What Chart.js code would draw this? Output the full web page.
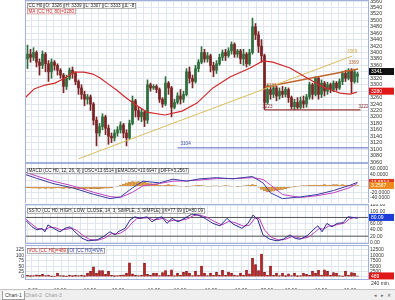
<!DOCTYPE html>
<html><head><meta charset="utf-8">
<script src="https://cdn.jsdelivr.net/npm/chart.js@4"></script>
<style>
html,body{margin:0;padding:0;background:#fff;width:395px;height:300px;overflow:hidden;font-family:"Liberation Sans",Arial,sans-serif}
canvas{position:absolute;left:0}
#tabs{position:absolute;left:0;top:289px;width:395px;height:11px;background:#efefef;border-top:1px solid #c4c4c4}
.tab{position:absolute;top:1px;height:8px;font-size:5px;line-height:8px;padding:0 2px;color:#9a9a9a}
.tab.sel{background:#fff;color:#333;border:1px solid #a0a0a0;border-top:none}
#nav{position:absolute;right:3px;top:1px;font-size:5px;line-height:8px;color:#666;letter-spacing:1px}
</style></head><body>
<canvas id="cMain" width="395" height="164" style="top:0;width:395px;height:164px"></canvas>
<canvas id="cMacd" width="395" height="40" style="top:163px;width:395px;height:40px"></canvas>
<canvas id="cSto" width="395" height="40" style="top:204px;width:395px;height:40px"></canvas>
<canvas id="cVol" width="395" height="44" style="top:245px;width:395px;height:44px"></canvas>
<div id="tabs">
  <div class="tab sel" style="left:2px">Chart-1</div>
  <div class="tab" style="left:23px">Chart-2</div>
  <div class="tab" style="left:43px">Chart-3</div>
  <div id="nav">◂ ▸ ✕</div>
</div>
<script>
// ================= DATA =================
const openP  = [3380,3395,3385,3400,3370,3360,3395,3365,3340,3370,3360,3345,3330,3295,3320,3345,3335,3310,3290,3270,3255,3262,3240,3190,3150,3170,3200,3165,3140,3135,3150,3160,3175,3150,3135,3180,3250,3220,3200,3215,3190,3300,3290,3295,3285,3255,3240,3305,3290,3230,3245,3265,3255,3270,3340,3320,3310,3350,3370,3400,3380,3390,3360,3345,3365,3385,3400,3390,3405,3425,3395,3405,3380,3395,3365,3400,3480,3455,3420,3390,3245,3285,3270,3290,3265,3280,3270,3285,3260,3232,3245,3230,3250,3240,3262,3300,3270,3320,3270,3305,3280,3300,3285,3305,3290,3310,3335,3320,3345,3310,3326];
const highP  = [3423,3410,3415,3405,3380,3405,3400,3375,3380,3375,3365,3350,3335,3330,3352,3355,3340,3315,3300,3280,3270,3268,3245,3200,3180,3210,3205,3175,3150,3160,3170,3185,3180,3160,3190,3265,3255,3230,3225,3220,3315,3305,3300,3300,3290,3260,3325,3310,3295,3255,3275,3285,3280,3350,3355,3330,3360,3378,3418,3410,3400,3395,3370,3375,3395,3408,3410,3415,3433,3430,3410,3410,3410,3400,3410,3507,3490,3465,3440,3395,3300,3295,3300,3295,3290,3295,3292,3290,3265,3255,3260,3262,3265,3270,3308,3305,3325,3325,3315,3310,3308,3305,3312,3310,3318,3342,3345,3350,3350,3348,3339];
const lowP   = [3350,3370,3375,3355,3330,3350,3340,3310,3320,3345,3330,3320,3275,3285,3315,3320,3300,3270,3255,3235,3240,3220,3175,3110,3140,3160,3145,3115,3120,3125,3140,3150,3135,3110,3130,3175,3200,3190,3185,3170,3180,3280,3285,3275,3245,3230,3235,3270,3200,3225,3240,3240,3245,3265,3305,3290,3305,3340,3365,3370,3370,3340,3325,3335,3360,3375,3375,3385,3395,3385,3385,3365,3360,3355,3360,3395,3440,3400,3370,3223,3240,3255,3260,3250,3255,3260,3262,3245,3225,3222,3224,3226,3228,3230,3255,3255,3265,3255,3260,3265,3270,3275,3278,3282,3285,3300,3310,3315,3275,3305,3307];
const closeP = [3395,3385,3400,3370,3360,3395,3365,3340,3370,3360,3345,3330,3295,3320,3345,3335,3310,3290,3270,3255,3262,3240,3190,3150,3170,3200,3165,3140,3135,3150,3160,3175,3150,3135,3180,3250,3220,3200,3215,3190,3300,3290,3295,3285,3255,3240,3305,3290,3230,3245,3265,3255,3270,3340,3320,3310,3350,3370,3400,3380,3390,3360,3345,3365,3385,3400,3390,3405,3425,3395,3405,3380,3395,3365,3400,3480,3455,3420,3390,3245,3285,3270,3290,3265,3280,3270,3285,3260,3232,3245,3230,3250,3240,3262,3300,3270,3320,3270,3305,3280,3300,3285,3305,3290,3310,3335,3320,3345,3310,3340,3333];

const maIdx = [-0.5,2.2,5.8,9.2,12.5,15.5,18.8,21.8,24.2,26.5,29.8,32.5,35.2,39.8,45.8,51.5,56.5,61.8,67.5,74.2,78.5,81.8,87.5,93.2,98.5,104.2,107.5,109.8];
const maVal = [3262,3287,3299,3305,3321,3339,3339,3333,3321,3305,3283,3262,3243,3215,3206,3218,3243,3290,3324,3352,3374,3370,3352,3321,3293,3274,3271,3277];

const yellowIdx = [17, 108.2];   const yellowVal = [3070, 3389];
const orangeIdx = [79.2, 110.2]; const orangeVal = [3293, 3349];
const supportIdx = [79, 111];    const supportVal = [3222, 3222];
const blueIdx = [50, 113.5];     const blueVal = [3104, 3104];

const volume = [900,600,700,1000,800,1200,700,900,500,400,1800,700,600,500,900,600,800,700,900,600,1800,2600,4700,1800,3000,3000,1200,2600,800,600,700,900,1000,1800,6600,1500,800,700,900,6300,1200,800,1800,1800,700,2100,3000,900,3300,700,1800,900,2200,2600,1800,700,2600,900,5000,1800,700,1800,800,2200,900,3100,800,2300,1800,900,700,1800,900,3100,1500,8600,5800,3000,10600,2200,900,5000,800,1800,700,1800,600,1500,700,1800,600,700,1800,1200,800,2600,1800,3100,900,3300,2600,900,2100,1800,700,500,2600,900,2100,1800,489];

const macdIdx    = [-0.5,3,8.5,15,22,27.5,31,35,38.5,44,48.5,53,57.5,63,68.5,75,78.5,81,85,91,96.5,102,107.5,110];
const macdLine   = [40,28,10,-5,-27,-42,-36,-5,18,12,25,18,26,30,26,34,12,-22,-42,-36,-28,-14,4,14];
const macdSignal = [48,36,18,2,-20,-35,-38,-20,2,10,18,19,22,27,27,30,24,5,-28,-38,-32,-22,-4,11];
const macdHist = [-4,-5,-6,-6,-7,-6,-7,-6,-7,-6,-5,-6,-7,-6,-7,-6,-7,-8,-7,-8,-7,-8,-9,-8,-8,-7,-6,-6,-4,-2,1,4,8,12,15,17,16,17,15,14,12,10,9,7,5,3,4,6,5,3,2,1,0,-1,1,2,3,4,3,2,1,1,2,2,1,2,3,2,1,0,-1,1,2,3,5,6,4,-3,-10,-15,-18,-17,-16,-14,-12,-10,-8,-5,-3,-1,1,2,3,3,4,5,5,4,5,6,5,5,6,6,5,6,5,4,4,3,3,3];

const stoKIdx = [-0.5,1.5,3.2,4.8,5.8,6.8,8.5,10.8,12.5,14.2,15.8,18.2,20.2,23.2,25.2,27.5,29.2,30.2,32.5,34.2,35.8,37.5,39.8,41.5,43.2,44.8,46.5,48.2,50.2,53.2,54.8,56.8,59.2,61.8,64.2,66.5,68.5,71.5,73.5,75.2,76.8,78.5,80.8,83.2,85.2,87.5,89.2,90.8,93.2,95.2,96.8,98.2,99.8,101.5,103.2,105.2,106.8,108.5,110];
const stoK    = [70,50,40,45,34,56,46,34,45,50,34,13,5,8,18,34,24,34,45,72,82,77,82,66,77,82,61,77,66,82,91,88,77,61,53,77,59,45,61,88,72,24,10,5,10,24,13,10,21,40,53,34,61,50,61,63,82,80,77.09];
const stoDIdx = [-0.5,1.5,3.2,4.8,6,7.2,9,11.2,13,14.8,16.5,18.8,20.8,23.5,25.8,28,29.8,31,33,34.8,36.5,38,40.2,42,43.8,45.3,47,48.8,50.8,53.5,55.3,57.3,59.7,62.3,64.8,67,69,72,74,75.8,77.3,79,81.3,83.7,85.7,88,89.7,91.3,93.7,95.7,97.3,98.7,100.3,102,103.7,105.7,107.3,109,110];
const stoD    = [74,58,45,42,40,48,48,40,42,46,38,20,9,7,14,28,27,30,42,62,77,78,79,72,74,78,68,71,70,76,86,88,81,67,56,67,64,52,55,78,76,40,16,8,9,18,17,12,17,32,45,42,52,54,58,62,75,80,80.09];
const stoLevels = [80, 20];

const mainTicks = [3060,3080,3100,3120,3140,3160,3180,3200,3220,3240,3260,3280,3300,3320,3340,3360,3380,3400,3420,3440,3460,3480,3500,3520,3540,3560];
const macdTicks = [-40,-20,0,20,40,60];
const stoTicks  = [0,20,40,60,80,100,120];
const volTicks  = [0,2500,5000,7500,10000,12500];

const timeTickIdx = [1.8,10.8,20.8,30.2,42.2,50.8,61.2,71.2,79.8,87.8,97.8,107.5];
const timeTickLabels = ['9:00','10:00','16:00','10:00','16:00','10:00','16:00','10:00','22:00','10:00','16:00','16:00'];

// ================= HELPERS =================
const FONT = '"Liberation Sans", Arial, sans-serif';
const GRID = '#e0e6f0';
const pts = (xs, ys) => xs.map((x, j) => ({x, y: ys[j]}));
const idx = openP.map((_, i) => i);
const upC = '#2f6e3c', dnC = '#7a2424';
const candleColors = closeP.map((c, i) => c >= openP[i] ? upC : dnC);

function xGrid() {
  return { type:'linear', min:-0.5, max:113.5, offset:false,
    grid:{color:GRID, drawTicks:false, lineWidth:1}, border:{display:false},
    ticks:{display:false, stepSize:2.5, includeBounds:false},
    afterFit(s){ s.height = 0; s.paddingLeft = 0; s.paddingRight = 0; } };
}
function yAxis(pos, min, max, list, fmt, size, width) {
  return { type:'linear', position:pos, min, max,
    grid:{color: pos === 'right' ? GRID : 'transparent', drawTicks:false}, border:{display:false},
    afterBuildTicks(s){ s.ticks = list.map(v => ({value:v})); },
    ticks:{autoSkip:false, padding:2, color:'#333', font:{family:FONT, size}, callback: fmt},
    afterFit(s){ s.width = width; s.paddingTop = 0; s.paddingBottom = 0; } };
}

const overlay = {
  id: 'overlay',
  afterDraw(chart, args, o) {
    const ctx = chart.ctx, a = chart.chartArea, xs = chart.scales.x;
    ctx.save();
    ctx.strokeStyle = '#a2b1dc'; ctx.lineWidth = 1;
    ctx.strokeRect(Math.round(a.left) - 0.5, Math.round(a.top) - 0.5,
      Math.round(a.right - a.left) + 1, Math.round(a.bottom - a.top) + 1);
    ctx.save();
    ctx.beginPath(); ctx.rect(a.left, a.top, a.right - a.left, a.bottom - a.top); ctx.clip();
    ctx.font = '4.6px ' + FONT; ctx.textBaseline = 'middle'; ctx.textAlign = 'left';
    (o.notes || []).forEach(n => {
      ctx.fillStyle = n.color;
      ctx.fillText(n.text, xs.getPixelForValue(n.i), chart.scales.y.getPixelForValue(n.v));
    });
    ctx.restore();
    let y0 = a.top + (o.legendTop || 2);
    ctx.font = '4.6px ' + FONT; ctx.textBaseline = 'middle'; ctx.textAlign = 'left';
    (o.legend || []).forEach(row => {
      let x = a.left + 1;
      row.forEach(it => {
        const w = Math.ceil(ctx.measureText(it.t).width + 3);
        ctx.fillStyle = '#fff'; ctx.fillRect(x, y0, w, 5.5);
        ctx.strokeStyle = it.b || '#6a6a6a'; ctx.lineWidth = 0.6;
        ctx.strokeRect(x + 0.3, y0 + 0.3, w - 0.6, 4.9);
        ctx.fillStyle = it.c || '#222';
        ctx.fillText(it.t, x + 1.5, y0 + 2.9);
        x += w;
      });
      y0 += 5.7;
    });
    ctx.font = '5px ' + FONT;
    (o.boxes || []).forEach(b => {
      const y = chart.scales[b.axis || 'y'].getPixelForValue(b.v);
      ctx.fillStyle = b.bg; ctx.fillRect(a.right + 1, y - 3.5, 25, 7);
      ctx.fillStyle = b.fg || '#fff'; ctx.fillText(b.t, a.right + 3, y + 0.3);
    });
    (o.texts || []).forEach(t => {
      ctx.fillStyle = '#333'; ctx.fillText(t.t, a.right + 3, a.bottom + t.dy);
    });
    ctx.restore();
  }
};

const base = (pad, extra) => Object.assign({
  responsive:false, animation:false, events:[], devicePixelRatio:1,
  layout:{padding:pad},
}, extra);

// ================= MAIN PRICE CHART =================
new Chart(document.getElementById('cMain'), {
  type:'bar',
  data:{ datasets:[
    {type:'line', data:pts(maIdx, maVal), borderColor:'#d02a2a', borderWidth:1.2, pointRadius:0, order:0},
    {type:'line', data:pts(yellowIdx, yellowVal), borderColor:'#dcbc5c', borderWidth:1, pointRadius:0, order:0},
    {type:'line', data:pts(orangeIdx, orangeVal), borderColor:'#c0642a', borderWidth:1.4, pointRadius:0, order:0},
    {type:'line', data:pts(supportIdx, supportVal), borderColor:'#9a3a3a', borderWidth:1.3, pointRadius:0, order:0},
    {type:'line', data:pts(blueIdx, blueVal), borderColor:'#5a66c4', borderWidth:1, pointRadius:0, order:0},
    {data: idx.map(i => ({x:i, y:[openP[i], closeP[i]]})), backgroundColor:candleColors, barThickness:2, grouped:false, order:1},
    {data: idx.map(i => ({x:i, y:[lowP[i], highP[i]]})), backgroundColor:candleColors, barThickness:1, grouped:false, order:2}
  ]},
  options: base({left:26, top:1, bottom:2, right:0}, {
    scales:{ x:xGrid(), y:yAxis('right', 3060, 3560, mainTicks, v => v, 5.5, 27) },
    plugins:{ legend:{display:false}, tooltip:{enabled:false},
      overlay:{
        legendTop:2,
        legend:[
          [{t:'CC H0'},{t:'O: 3326'},{t:'H: 3339'},{t:'L: 3307'},{t:'C: 3333'},{t:'Δ: -8'}],
          [{t:'MA (CC H0, 80)=3280', c:'#c83030', b:'#c87070'}]
        ],
        notes:[
          {i:51, v:3116, text:'3104', color:'#3a4aa8'},
          {i:106.5, v:3403, text:'3389', color:'#c9a84a'},
          {i:107, v:3367, text:'3369', color:'#b8602a'},
          {i:79.6, v:3297, text:'3323', color:'#b8602a'},
          {i:78.3, v:3232, text:'3223', color:'#8a3030'},
          {i:110.3, v:3232, text:'3222', color:'#8a3030'}
        ],
        boxes:[ {v:3341, t:'3341', bg:'#111'}, {v:3280, t:'3280', bg:'#e01818'} ]
      } }
  }),
  plugins:[overlay]
});

// ================= MACD =================
new Chart(document.getElementById('cMacd'), {
  type:'bar',
  data:{ datasets:[
    {type:'line', data:pts(macdIdx, macdLine), borderColor:'#3c3ca0', borderWidth:1, pointRadius:0, order:0},
    {type:'line', data:pts(macdIdx, macdSignal), borderColor:'#c040c0', borderWidth:1, pointRadius:0, order:0},
    {data: idx.map(i => ({x:i, y:macdHist[i]})), backgroundColor:'#f0a038', borderColor:'#a86010', borderWidth:0.5, barThickness:2, grouped:false, order:1}
  ]},
  options: base({left:26, top:1, bottom:0, right:0}, {
    scales:{ x:xGrid(), y:yAxis('right', -57, 77, macdTicks, v => (v === 0 || v === 20) ? '' : v.toFixed(4), 5, 27) },
    plugins:{ legend:{display:false}, tooltip:{enabled:false},
      overlay:{ legendTop:4,
        legend:[[{t:'MACD (CC H0, 12, 26, 9)'},{t:'OSC=13.6514'},{t:'EMAOSC=10.6947'},{t:'DIFF=3.2567'}]],
        boxes:[ {v:13.6514, t:'13.6514', bg:'#e23a1e'}, {v:3.2567, t:'3.2567', bg:'#f08a1c'} ] } }
  }),
  plugins:[overlay]
});

// ================= STOCHASTIC =================
new Chart(document.getElementById('cSto'), {
  type:'line',
  data:{ datasets:[
    {data:pts(stoKIdx, stoK), borderColor:'#2c2c8c', borderWidth:1, pointRadius:0},
    {data:pts(stoDIdx, stoD), borderColor:'#b83cb8', borderWidth:1, pointRadius:0},
    {data:pts([-0.5, 113.5], [stoLevels[0], stoLevels[0]]), borderColor:'#555', borderWidth:1, pointRadius:0},
    {data:pts([-0.5, 113.5], [stoLevels[1], stoLevels[1]]), borderColor:'#555', borderWidth:1, pointRadius:0}
  ]},
  options: base({left:26, top:1, bottom:1, right:0}, {
    scales:{ x:xGrid(), y:yAxis('right', -2, 120, stoTicks, v => v === 80 ? '' : v.toFixed(2), 5, 27) },
    plugins:{ legend:{display:false}, tooltip:{enabled:false},
      overlay:{ legendTop:3,
        legend:[[{t:'SSTO (CC H0, HIGH, LOW, CLOSE, 14, 3, SIMPLE, 3, SIMPLE)'},{t:'K=77.09'},{t:'D=80.09'}]],
        boxes:[ {v:80.09, t:'80.09', bg:'#1c3cd8'} ] } }
  }),
  plugins:[overlay]
});

// ================= VOLUME =================
const xTime = { type:'linear', min:-0.5, max:113.5, offset:false, position:'bottom',
  grid:{display:false}, border:{display:false},
  afterBuildTicks(s){ s.ticks = timeTickIdx.map(v => ({value:v})); },
  ticks:{autoSkip:false, maxRotation:0, padding:1, color:'#333', font:{family:FONT, size:5},
    callback:(v, i) => timeTickLabels[i]},
  afterFit(s){ s.height = 10; s.paddingLeft = 0; s.paddingRight = 0; } };

new Chart(document.getElementById('cVol'), {
  type:'bar',
  data:{ datasets:[
    {data: idx.map(i => ({x:i, y:volume[i]})), backgroundColor:'#c81e1e', borderColor:'#5e0c0c', borderWidth:0.5, barThickness:2, grouped:false, yAxisID:'y'}
  ]},
  options: base({left:0, top:1, bottom:0, right:0}, {
    scales:{ x:xGrid(), xt:xTime,
      y:yAxis('right', -926, 14350, volTicks, v => v === 0 ? '' : v, 5, 27),
      yl:yAxis('left', -926, 14350, volTicks, v => v / 100, 5, 26) },
    plugins:{ legend:{display:false}, tooltip:{enabled:false},
      overlay:{ legendTop:2,
        legend:[[{t:'VOL (CC H0)=489', c:'#c82020'},{t:'OI (CC H0)=N/A', c:'#2a3aa8'}]],
        boxes:[ {v:489, t:'489', bg:'#e01818'} ],
        texts:[ {t:'240 min.', dy:4.5} ] } }
  }),
  plugins:[overlay]
});
</script>
</body></html>
